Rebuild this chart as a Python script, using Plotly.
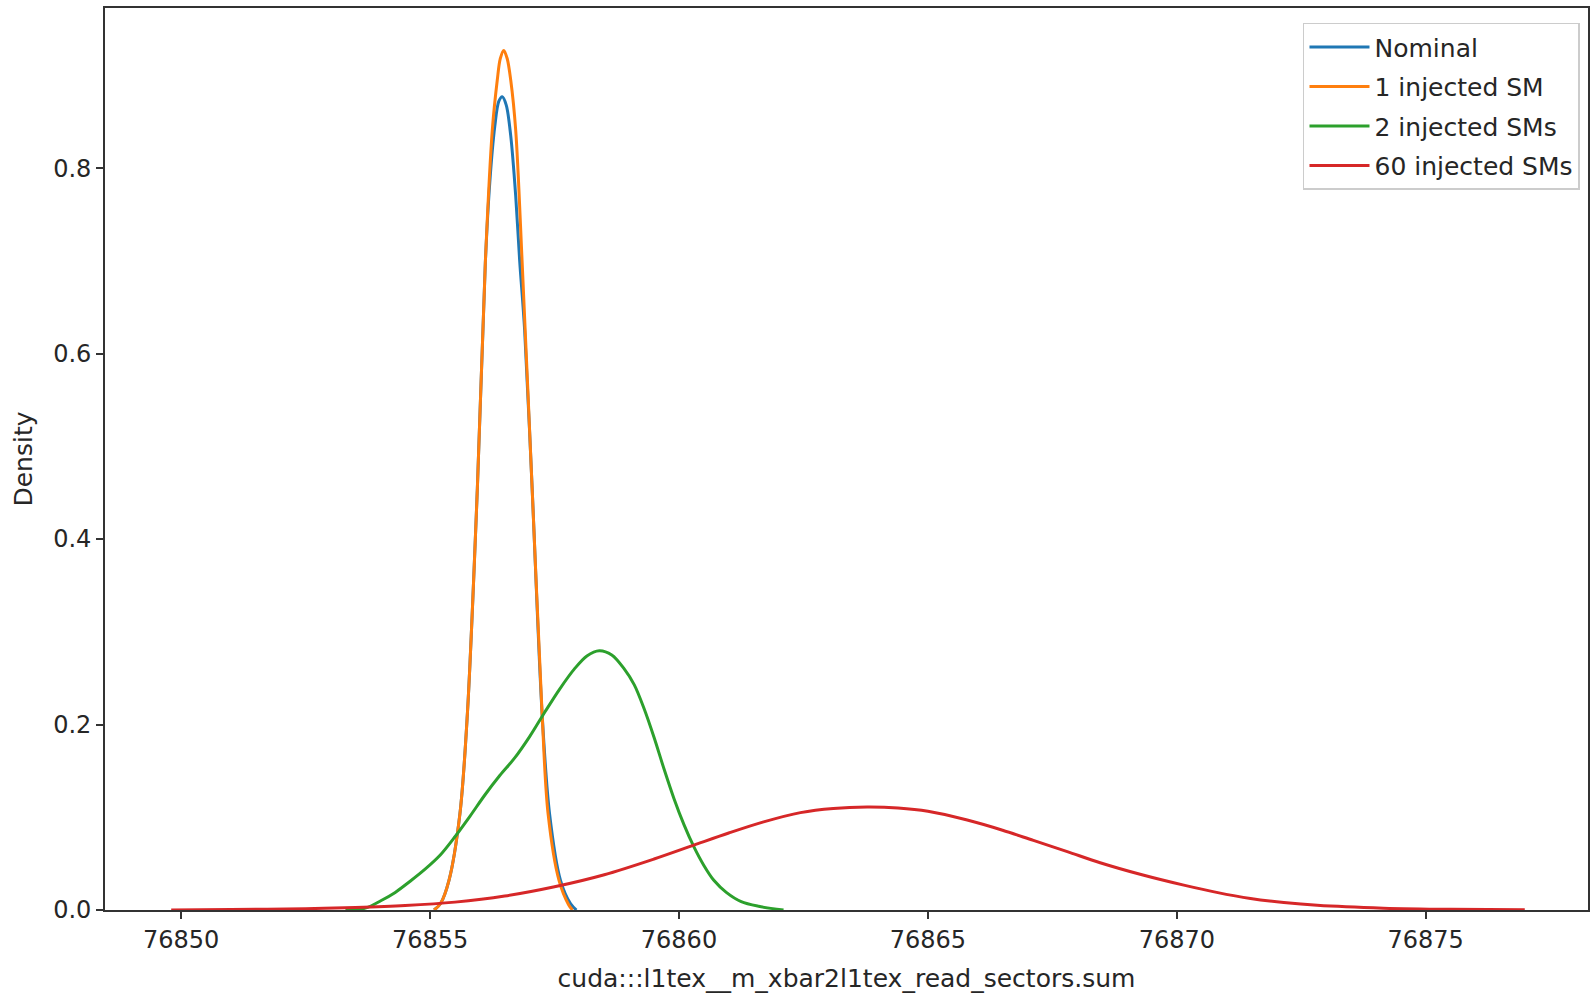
import plotly.graph_objects as go

nominal_x = [76855.08, 76855.21, 76855.38, 76855.60, 76855.75, 76855.95, 76856.11, 76856.20,
             76856.30, 76856.38, 76856.45, 76856.53, 76856.62, 76856.72, 76856.80, 76856.90,
             76857.05, 76857.25, 76857.40, 76857.62, 76857.82, 76857.94]
nominal_y = [0.0, 0.007, 0.032, 0.104, 0.212, 0.455, 0.698, 0.785,
             0.845, 0.872, 0.877, 0.868, 0.835, 0.77, 0.70, 0.625,
             0.455, 0.212, 0.104, 0.032, 0.007, 0.0]

one_sm_x = [76855.08, 76855.21, 76855.38, 76855.60, 76855.75, 76855.95, 76856.11, 76856.25,
            76856.35, 76856.41, 76856.48, 76856.55, 76856.62, 76856.72, 76856.85, 76857.05,
            76857.25, 76857.37, 76857.59, 76857.78, 76857.86]
one_sm_y = [0.0, 0.007, 0.032, 0.104, 0.212, 0.455, 0.698, 0.841,
            0.895, 0.918, 0.927, 0.918, 0.895, 0.841, 0.698, 0.455,
            0.212, 0.104, 0.032, 0.006, 0.0]

two_sm_x = [76853.30, 76853.70, 76854.01, 76854.30, 76854.60, 76854.90, 76855.20, 76855.50,
            76855.80, 76856.10, 76856.40, 76856.70, 76857.00, 76857.30, 76857.60, 76857.90,
            76858.15, 76858.40, 76858.65, 76858.90, 76859.10, 76859.30, 76859.50, 76859.70,
            76859.90, 76860.10, 76860.30, 76860.50, 76860.70, 76860.95, 76861.25, 76861.60,
            76862.10]
two_sm_y = [0.0, 0.002, 0.010, 0.019, 0.031, 0.044, 0.059, 0.079,
            0.101, 0.124, 0.145, 0.164, 0.187, 0.213, 0.238, 0.260,
            0.274, 0.2796, 0.275, 0.260, 0.243, 0.217, 0.186, 0.152,
            0.120, 0.092, 0.068, 0.048, 0.032, 0.019, 0.009, 0.004,
            0.0]

sixty_sm_x = [76849.80, 76851.00, 76852.50, 76853.50, 76854.50, 76855.50, 76856.50, 76857.50,
              76858.50, 76859.50, 76860.30, 76861.00, 76861.70, 76862.44, 76863.10, 76863.78,
              76864.40, 76865.00, 76865.79, 76866.50, 76867.12, 76867.80, 76868.46, 76869.30,
              76870.14, 76870.80, 76871.48, 76872.15, 76872.82, 76874.15, 76875.50, 76876.99]
sixty_sm_y = [0.0, 0.0005, 0.0014, 0.0027, 0.0048, 0.0085, 0.015, 0.025,
              0.038, 0.055, 0.070, 0.083, 0.095, 0.105, 0.1095, 0.111,
              0.110, 0.1065, 0.097, 0.086, 0.075, 0.063, 0.051, 0.038,
              0.0268, 0.019, 0.0124, 0.0080, 0.0050, 0.0020, 0.0007, 0.0002]

series_names = ["Nominal", "1 injected SM", "2 injected SMs", "60 injected SMs"]
series_colors = ["#1f77b4", "#ff7f0e", "#2ca02c", "#d62728"]

x_ticks = [76850, 76855, 76860, 76865, 76870, 76875]
y_ticks = [0.0, 0.2, 0.4, 0.6, 0.8]

x_label = "cuda:::l1tex__m_xbar2l1tex_read_sectors.sum"
y_label = "Density"

FONT = "DejaVu Sans"
TXT = "#262626"

fig = go.Figure()
for name, color, xs, ys in zip(series_names, series_colors,
                               [nominal_x, one_sm_x, two_sm_x, sixty_sm_x],
                               [nominal_y, one_sm_y, two_sm_y, sixty_sm_y]):
    fig.add_trace(go.Scatter(x=xs, y=ys, mode="lines", name=name, legendgroup=name,
                             line=dict(color=color, width=3, shape="spline", smoothing=0.9)))

fig.update_layout(
    width=1590, height=993,
    margin=dict(l=105, r=2, t=8, b=83),
    paper_bgcolor="white", plot_bgcolor="white",
    font=dict(family=FONT, size=24, color=TXT),
    showlegend=True,
    legend=dict(x=0.9946, y=0.9837, xanchor="right", yanchor="top",
                bgcolor="rgba(255,255,255,0.85)", bordercolor="#cccccc", borderwidth=1.5,
                font=dict(family=FONT, size=25, color=TXT),
                itemwidth=60,
                traceorder="grouped", tracegroupgap=4),
    xaxis=dict(range=[76848.47, 76878.26], tickmode="array", tickvals=x_ticks,
               ticktext=[str(v) for v in x_ticks],
               showgrid=False, zeroline=False, showline=True, mirror=True,
               linecolor="#333333", linewidth=1.8, ticks="outside", ticklen=7,
               tickwidth=1.6, tickcolor="#333333",
               tickfont=dict(family=FONT, size=24, color=TXT),
               title=dict(text=x_label, standoff=17, font=dict(family=FONT, size=25, color=TXT)),
               automargin=False),
    yaxis=dict(range=[0, 0.9727], tickmode="array", tickvals=y_ticks,
               ticktext=["%.1f" % v for v in y_ticks],
               showgrid=False, zeroline=False, showline=True, mirror=True,
               linecolor="#333333", linewidth=1.8, ticks="outside", ticklen=7,
               tickwidth=1.6, tickcolor="#333333",
               tickfont=dict(family=FONT, size=24, color=TXT),
               title=dict(text=y_label, standoff=13, font=dict(family=FONT, size=25, color=TXT)),
               automargin=False),
)

fig.write_html("out.html",
               config={"displayModeBar": False},
               post_script="document.body.style.margin='0';document.body.style.overflow='hidden';")
